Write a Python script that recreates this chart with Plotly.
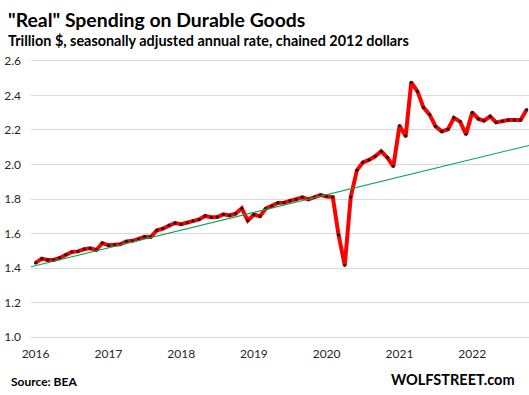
import pandas as pd
import plotly.graph_objects as go

# ---- data ----
months = pd.date_range("2016-01-01", periods=82, freq="MS")
spending = [
    1.430, 1.455, 1.447, 1.447, 1.459, 1.478, 1.493, 1.497, 1.510, 1.515, 1.505, 1.545,
    1.532, 1.535, 1.538, 1.555, 1.558, 1.569, 1.582, 1.580, 1.619, 1.629, 1.648, 1.661,
    1.654, 1.663, 1.673, 1.682, 1.702, 1.694, 1.696, 1.711, 1.705, 1.715, 1.746, 1.675,
    1.710, 1.700, 1.744, 1.758, 1.777, 1.779, 1.790, 1.796, 1.810, 1.798, 1.811, 1.823,
    1.815, 1.811, 1.592, 1.416, 1.811, 1.966, 2.012, 2.026, 2.047, 2.076, 2.040, 1.989,
    2.224, 2.163, 2.475, 2.423, 2.330, 2.288, 2.220, 2.191, 2.203, 2.270, 2.248, 2.174,
    2.301, 2.263, 2.253, 2.278, 2.243, 2.251, 2.257, 2.257, 2.257, 2.317,
]
trend_dates = ["2015-12-09", "2022-10-13"]
trend_values = [1.408, 2.110]
year_ticks = ["2016-01-01", "2017-01-01", "2018-01-01", "2019-01-01",
              "2020-01-01", "2021-01-01", "2022-01-01"]
year_labels = ["2016", "2017", "2018", "2019", "2020", "2021", "2022"]
y_ticks = [1.0, 1.2, 1.4, 1.6, 1.8, 2.0, 2.2, 2.4, 2.6]

# ---- layout geometry (pixels) ----
W, H = 529, 395
ML, MR, MT, MB = 31, 0, 59, 56
PW, PH = W - ML - MR, H - MT - MB

def px(x):
    return (x - ML) / PW

def py(y):
    return (H - MB - y) / PH

FONT = "Lato"

fig = go.Figure()
fig.add_trace(go.Scatter(
    x=months, y=spending, mode="lines+markers",
    line=dict(color="#FF0000", width=4),
    marker=dict(color="#1A1A1A", size=3.3),
    hoverinfo="x+y", showlegend=False,
))
fig.add_trace(go.Scatter(
    x=trend_dates, y=trend_values, mode="lines",
    line=dict(color="#00A84F", width=1.1),
    showlegend=False, hoverinfo="skip",
))

fig.update_layout(
    width=W, height=H,
    margin=dict(l=ML, r=MR, t=MT, b=MB, autoexpand=False),
    paper_bgcolor="white", plot_bgcolor="white",
    font=dict(family=FONT, color="#262626"),
    xaxis=dict(
        type="date", range=["2015-12-09", "2022-10-13"],
        tickmode="array", tickvals=year_ticks, ticktext=year_labels,
        showgrid=False, zeroline=False, showline=False, ticks="",
        tickfont=dict(size=12, color="#262626"), ticklabelstandoff=6,
        automargin=False,
    ),
    yaxis=dict(
        range=[0.99, 2.61], tickmode="array", tickvals=y_ticks,
        ticktext=[f"{v:.1f}" for v in y_ticks],
        showgrid=True, gridcolor="#D9D9D9", gridwidth=1,
        zeroline=False, showline=False, ticks="",
        tickfont=dict(size=12, color="#262626"), ticklabelstandoff=9,
        automargin=False,
    ),
    annotations=[
        dict(text="<b>\"Real\" Spending on Durable Goods</b>", x=px(6), y=py(19),
             xref="paper", yref="paper", xanchor="left", yanchor="middle",
             showarrow=False, font=dict(size=19.4, color="#000000", family=FONT)),
        dict(text="<b>Trillion $, seasonally adjusted annual rate, chained 2012 dollars</b>",
             x=px(6), y=py(40), xref="paper", yref="paper", xanchor="left",
             yanchor="middle", showarrow=False,
             font=dict(size=14.4, color="#000000", family=FONT)),
        dict(text="<b>Source: BEA</b>", x=px(9), y=py(381), xref="paper", yref="paper",
             xanchor="left", yanchor="middle", showarrow=False,
             font=dict(size=12, color="#000000", family=FONT)),
        dict(text="<b>WOLFSTREET.com</b>", x=px(517), y=py(379), xref="paper",
             yref="paper", xanchor="right", yanchor="middle", showarrow=False,
             font=dict(size=14.5, color="#000000", family=FONT)),
    ],
)

fig.write_html("out.html", config={"displayModeBar": False},
               post_script="document.body.style.margin='0px';")
